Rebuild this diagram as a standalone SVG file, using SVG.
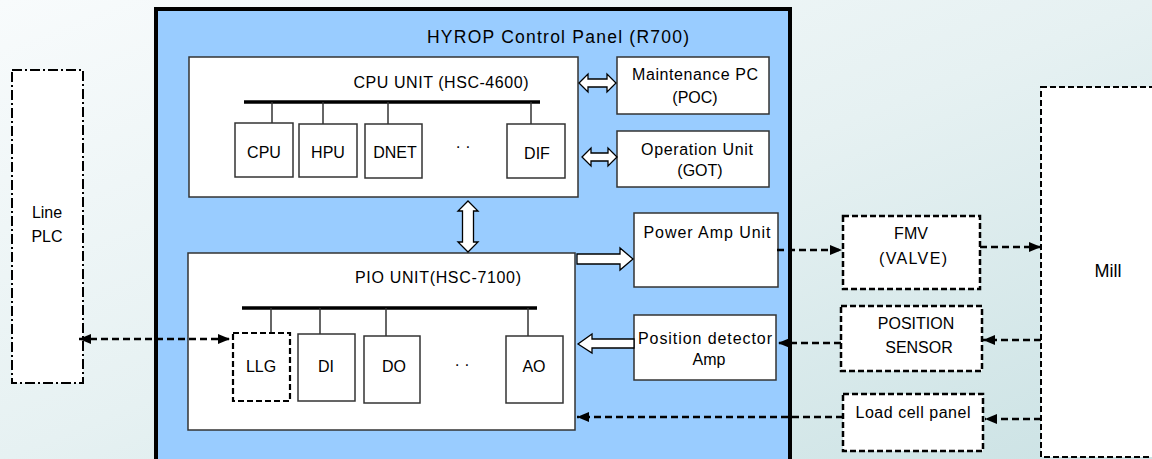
<svg xmlns="http://www.w3.org/2000/svg" width="1152" height="459" viewBox="0 0 1152 459">
<defs>
<linearGradient id="bg" x1="0" y1="0" x2="1" y2="1">
<stop offset="0" stop-color="#f8fbfc"/>
<stop offset="0.5" stop-color="#e6f1f2"/>
<stop offset="1" stop-color="#cbe2e4"/>
</linearGradient>
<marker id="ah" viewBox="0 0 12 10" refX="12" refY="5" markerWidth="12" markerHeight="10" markerUnits="userSpaceOnUse" orient="auto-start-reverse">
<path d="M0,0 L12,5 L0,10 Z" fill="#000"/>
</marker>
<style>
text{font-family:"Liberation Sans",Arial,sans-serif;fill:#000;text-anchor:middle}
.t16{font-size:16px}
.t15{font-size:16px}
.box{fill:#fff;stroke:#333;stroke-width:1.5}
.dbox{fill:#fff;stroke:#000;stroke-width:2.5;stroke-dasharray:6 3}
.bus{stroke:#000;stroke-width:3.5}
.stub{stroke:#333;stroke-width:1.5}
.hollow{fill:#fff;stroke:#000;stroke-width:1.3;stroke-linejoin:miter}
.dl{fill:none;stroke:#000;stroke-width:2.5;stroke-dasharray:7 4}
</style>
</defs>
<rect x="0" y="0" width="1152" height="459" fill="url(#bg)"/>

<g id="control-panel">
<rect x="156" y="9" width="634" height="470" fill="#99ccff" stroke="#000" stroke-width="4"/>
<text x="558" y="43" textLength="262" lengthAdjust="spacing" style="font-size:17.5px">HYROP Control Panel (R700)</text>
</g>

<g id="line-plc">
<rect x="12" y="70" width="71" height="313" fill="#fff" stroke="#000" stroke-width="2" stroke-dasharray="10 3 2 3"/>
<text class="t16" x="47" y="218">Line</text>
<text class="t16" x="47" y="242">PLC</text>
</g>

<g id="cpu-unit">
<rect class="box" x="189" y="57" width="389" height="140"/>
<text class="t15" x="441" y="88" textLength="175" lengthAdjust="spacing">CPU UNIT (HSC-4600)</text>
<line class="bus" x1="244" y1="102" x2="540" y2="102"/>
<line class="stub" x1="272" y1="102" x2="272" y2="123"/>
<line class="stub" x1="323" y1="102" x2="323" y2="124"/>
<line class="stub" x1="388" y1="102" x2="388" y2="124"/>
<line class="stub" x1="531" y1="102" x2="531" y2="124"/>
<text class="t16" x="463" y="152">·  ·</text>
</g>
<g id="cpu">
<rect class="box" x="235" y="123" width="58" height="54"/>
<text class="t16" x="264" y="158">CPU</text>
</g>
<g id="hpu">
<rect class="box" x="299" y="124" width="58" height="53"/>
<text class="t16" x="328" y="158">HPU</text>
</g>
<g id="dnet">
<rect class="box" x="365" y="124" width="57" height="54"/>
<text class="t16" x="395" y="158">DNET</text>
</g>
<g id="dif">
<rect class="box" x="507" y="124" width="58" height="54"/>
<text class="t16" x="537" y="159">DIF</text>
</g>

<g id="maintenance-pc">
<rect class="box" x="617" y="57" width="152" height="57"/>
<text class="t15" x="695" y="80" textLength="126" lengthAdjust="spacing">Maintenance PC</text>
<text class="t15" x="695" y="103">(POC)</text>
</g>
<g id="operation-unit">
<rect class="box" x="617" y="131" width="152" height="56"/>
<text class="t15" x="697" y="155" textLength="112" lengthAdjust="spacing">Operation Unit</text>
<text class="t15" x="700" y="176">(GOT)</text>
</g>

<g id="pio-unit">
<rect class="box" x="188" y="253" width="387" height="177"/>
<text class="t15" x="438" y="283" textLength="166" lengthAdjust="spacing">PIO UNIT(HSC-7100)</text>
<line class="bus" x1="242" y1="308" x2="537" y2="308"/>
<line class="stub" x1="271" y1="308" x2="271" y2="333"/>
<line class="stub" x1="320" y1="308" x2="320" y2="334"/>
<line class="stub" x1="386" y1="308" x2="386" y2="336"/>
<line class="stub" x1="528" y1="308" x2="528" y2="336"/>
<text class="t16" x="462" y="370">·  ·</text>
</g>
<g id="llg">
<rect class="dbox" x="233" y="333" width="57" height="68" style="stroke-width:2.2"/>
<text class="t16" x="261" y="372">LLG</text>
</g>
<g id="di">
<rect class="box" x="298" y="334" width="57" height="67"/>
<text class="t16" x="326" y="372">DI</text>
</g>
<g id="do">
<rect class="box" x="364" y="336" width="56" height="67"/>
<text class="t16" x="394" y="372">DO</text>
</g>
<g id="ao">
<rect class="box" x="506" y="336" width="57" height="67"/>
<text class="t16" x="534" y="372">AO</text>
</g>

<g id="power-amp-unit">
<rect class="box" x="634" y="213" width="144" height="74"/>
<text class="t15" x="707" y="238" textLength="127" lengthAdjust="spacing">Power Amp Unit</text>
</g>
<g id="position-detector-amp">
<rect class="box" x="634" y="315" width="142" height="65"/>
<text class="t15" x="705" y="344" textLength="134" lengthAdjust="spacing">Position detector</text>
<text class="t15" x="709" y="365">Amp</text>
</g>

<g id="fmv">
<rect class="dbox" x="843" y="216" width="137" height="73"/>
<text class="t16" x="911" y="239">FMV</text>
<text class="t16" x="913" y="264" textLength="68" lengthAdjust="spacing">(VALVE)</text>
</g>
<g id="position-sensor">
<rect class="dbox" x="841" y="306" width="141" height="65"/>
<text class="t16" x="916" y="329">POSITION</text>
<text class="t16" x="919" y="353">SENSOR</text>
</g>
<g id="load-cell-panel">
<rect class="dbox" x="843" y="394" width="140" height="57"/>
<text class="t15" x="913" y="418" textLength="115" lengthAdjust="spacing">Load cell panel</text>
</g>
<g id="mill">
<rect x="1041" y="87" width="130" height="370" fill="#fff" stroke="#000" stroke-width="2" stroke-dasharray="6 3"/>
<text x="1108" y="277" style="font-size:18px">Mill</text>
</g>

<g id="connectors">
<path class="hollow" d="M579,83 L588,74 L588,79 L607,79 L607,74 L616,83 L607,92 L607,87 L588,87 L588,92 Z"/>
<path class="hollow" d="M582,157 L591,148 L591,153 L608,153 L608,148 L617,157 L608,166 L608,161 L591,161 L591,166 Z"/>
<path class="hollow" d="M468,201 L478,211 L473.5,211 L473.5,242 L478,242 L468,252 L458,242 L462.5,242 L462.5,211 L458,211 Z"/>
<path class="hollow" d="M577,254 L620,254 L620,248 L633,259 L620,270 L620,264 L577,264 Z"/>
<path class="hollow" d="M634,339 L592,339 L592,334 L578,344 L592,353 L592,348 L634,348 Z"/>
<path class="dl" d="M79,339 L230,339" marker-start="url(#ah)" marker-end="url(#ah)"/>
<path class="dl" d="M777,250 L842,250" marker-end="url(#ah)"/>
<path class="dl" d="M980,247 L1041,247" marker-end="url(#ah)"/>
<path class="dl" d="M1041,340 L983,340" marker-end="url(#ah)"/>
<path class="dl" d="M841,343 L778,343" marker-end="url(#ah)"/>
<path class="dl" d="M1041,419 L985,419" marker-end="url(#ah)"/>
<path class="dl" d="M843,417 L577,417" marker-end="url(#ah)"/>
</g>
</svg>
